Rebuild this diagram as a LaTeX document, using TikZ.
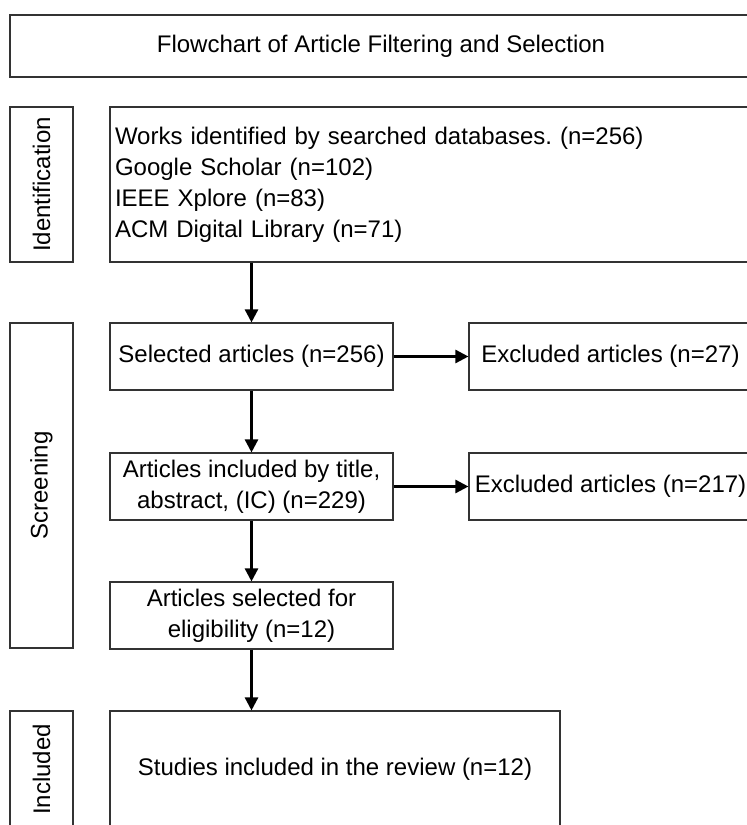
\documentclass[tikz,border=0pt]{standalone}
\usepackage{fontspec}
\setmainfont{Liberation Sans}
\usepackage{xcolor}
\usepackage{tikz}
\usetikzlibrary{arrows.meta, positioning}
\tikzset{
  kotak/.style={rectangle, draw=black!80, line width=1.1pt, fill=white, inner sep=5pt,
    align=center, font=\fontsize{24}{31}\selectfont},
  tahap/.style={kotak, rotate=90, minimum height=63pt},
  panah/.style={-{Triangle[length=13pt, width=13pt]}, line width=2.4pt, black}
}
\frenchspacing

\begin{document}
\begin{tikzpicture}[x=1pt, y=-1pt]
  \useasboundingbox (0,0) rectangle (747,825);
  \clip (0,0) rectangle (747,825);
  \node[kotak, minimum width=742pt, minimum height=62pt] (judul) at (381,46) {Flowchart of Article Filtering and Selection};
  \node[tahap, minimum width=155pt] (t1) at (41.5,184.5) {Identification};
  \node[tahap, minimum width=325pt] (t2) at (41.5,485.5) {Screening};
  \node[tahap, minimum width=117pt] (t3) at (41.5,769.5) {Included};
  \node[kotak, align=left, text width=632pt, minimum height=155pt] (a1) at (431,184.5)
    {Works identified by searched databases. (n=256)\\Google Scholar (n=102)\\IEEE Xplore (n=83)\\ACM Digital Library (n=71)};
  \node[kotak, minimum width=283pt, minimum height=67pt] (a2) at (251.5,356.5) {Selected articles (n=256)};
  \node[kotak, minimum width=283pt, minimum height=67pt] (x1) at (610.5,356.5) {Excluded articles (n=27)};
  \node[kotak, minimum width=283pt, minimum height=67pt] (a3) at (251.5,486.5) {Articles included by title,\\abstract, (IC) (n=229)};
  \node[kotak, minimum width=283pt, minimum height=67pt] (x2) at (610.5,486.5) {Excluded articles (n=217)};
  \node[kotak, minimum width=283pt, minimum height=67pt] (a4) at (251.5,615.5) {Articles selected for\\eligibility (n=12)};
  \node[kotak, minimum width=450pt, minimum height=117pt] (a5) at (335,769.5) {Studies included in the review (n=12)};
  \draw[panah] (a1.south -| a2.north) -- (a2.north);
  \draw[panah] (a2) -- (x1);
  \draw[panah] (a2) -- (a3);
  \draw[panah] (a3) -- (x2);
  \draw[panah] (a3) -- (a4);
  \draw[panah] (a4.south) -- (a4.south |- a5.north);
\end{tikzpicture}
\end{document}
